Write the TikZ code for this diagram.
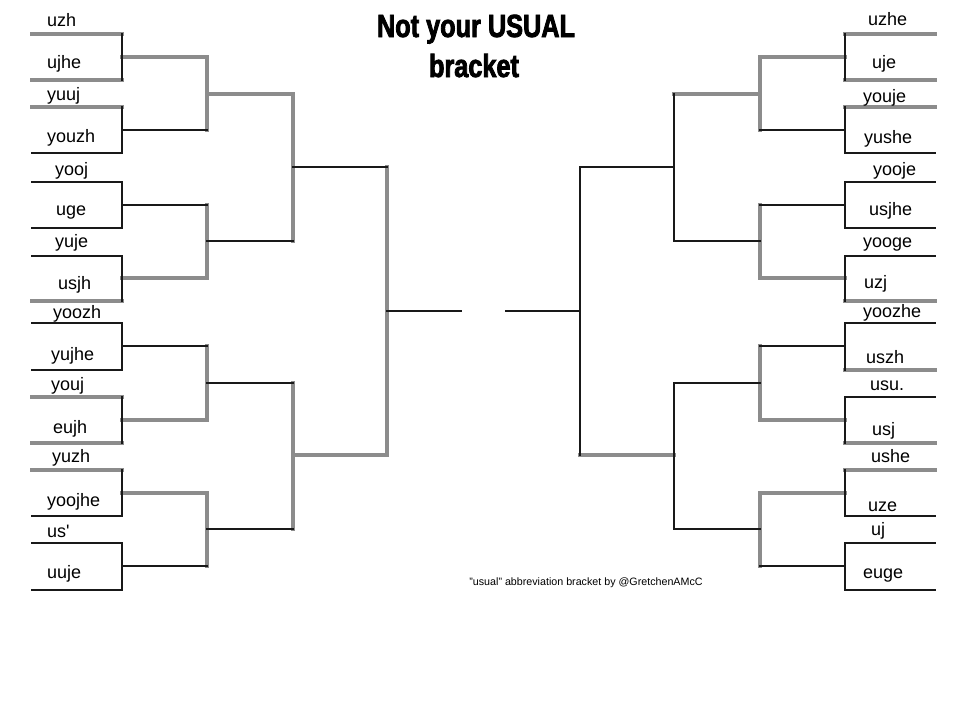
\documentclass[tikz,border=0pt]{standalone}
\usepackage{fontspec}
\setmainfont{Liberation Sans}
\newfontfamily\titlefont[FakeStretch=0.79,FakeBold=2.5]{Liberation Sans Bold}
\usepackage{tikz}

\begin{document}
\begin{tikzpicture}[x=1pt,y=-1pt,line cap=rect,
    lite/.style={draw=black!45, line width=3.6pt},
    dark/.style={draw=black!90, line width=2.8pt},
    lbl/.style={anchor=base west, inner sep=0pt, font=\fontsize{18}{20}\selectfont},
    ttl/.style={anchor=base, inner sep=0pt, font=\titlefont\fontsize{32}{34}\selectfont}]
  \useasboundingbox (0,0) rectangle (960,720);
  % left half
  \draw[lite] (32,34) -- (122,34) (32,80) -- (122,80) (32,107) -- (122,107) (32,301) -- (122,301)
              (32,397) -- (122,397) (32,443) -- (122,443) (32,470) -- (122,470);
  \draw[lite] (122,57) -- (207,57) (122,278) -- (207,278) (122,420) -- (207,420) (122,493) -- (207,493);
  \draw[lite] (207,57) -- (207,130) (207,205) -- (207,278) (207,346) -- (207,420) (207,493) -- (207,566);
  \draw[lite] (207,94) -- (293,94) (293,94) -- (293,241) (293,383) -- (293,529);
  \draw[lite] (293,455) -- (387,455) (387,167) -- (387,455);
  \draw[dark] (32,153) -- (122,153) (32,182) -- (122,182) (32,228) -- (122,228) (32,256) -- (122,256)
              (32,323) -- (122,323) (32,370) -- (122,370) (32,516) -- (122,516) (32,543) -- (122,543)
              (32,590) -- (122,590);
  \draw[dark] (122,34) -- (122,80) (122,107) -- (122,153) (122,182) -- (122,228) (122,256) -- (122,301)
              (122,323) -- (122,370) (122,397) -- (122,443) (122,470) -- (122,516) (122,543) -- (122,590);
  \draw[dark] (122,130) -- (207,130) (122,205) -- (207,205) (122,346) -- (207,346) (122,566) -- (207,566);
  \draw[dark] (207,241) -- (293,241) (207,383) -- (293,383) (207,529) -- (293,529);
  \draw[dark] (293,167) -- (387,167) (387,311) -- (461,311);
  % right half, mirrored
  \begin{scope}[xshift=967pt, xscale=-1]
    \draw[lite] (32,34) -- (122,34) (32,80) -- (122,80) (32,107) -- (122,107) (32,301) -- (122,301)
                (32,370) -- (122,370) (32,443) -- (122,443) (32,470) -- (122,470);
    \draw[lite] (122,57) -- (207,57) (122,278) -- (207,278) (122,420) -- (207,420) (122,493) -- (207,493);
    \draw[lite] (207,57) -- (207,130) (207,205) -- (207,278) (207,346) -- (207,420) (207,493) -- (207,566);
    \draw[lite] (207,94) -- (293,94) (293,455) -- (387,455);
    \draw[dark] (32,153) -- (122,153) (32,182) -- (122,182) (32,228) -- (122,228) (32,256) -- (122,256)
                (32,323) -- (122,323) (32,397) -- (122,397) (32,516) -- (122,516) (32,543) -- (122,543)
                (32,590) -- (122,590);
    \draw[dark] (122,34) -- (122,80) (122,107) -- (122,153) (122,182) -- (122,228) (122,256) -- (122,301)
                (122,323) -- (122,370) (122,397) -- (122,443) (122,470) -- (122,516) (122,543) -- (122,590);
    \draw[dark] (122,130) -- (207,130) (122,205) -- (207,205) (122,346) -- (207,346) (122,566) -- (207,566);
    \draw[dark] (207,241) -- (293,241) (207,383) -- (293,383) (207,529) -- (293,529);
    \draw[dark] (293,94) -- (293,241) (293,383) -- (293,529);
    \draw[dark] (293,167) -- (387,167) (387,167) -- (387,455) (387,311) -- (461,311);
  \end{scope}
  % names, left
  \node[lbl] (l1) at (47,27) {uzh};
  \node[lbl] (l2) at (47,68) {ujhe};
  \node[lbl] (l3) at (47,100) {yuuj};
  \node[lbl] (l4) at (47,142) {youzh};
  \node[lbl] (l5) at (55,175) {yooj};
  \node[lbl] (l6) at (56,215) {uge};
  \node[lbl] (l7) at (55,247) {yuje};
  \node[lbl] (l8) at (58,289) {usjh};
  \node[lbl] (l9) at (53,318) {yoozh};
  \node[lbl] (l10) at (51,360) {yujhe};
  \node[lbl] (l11) at (51,390) {youj};
  \node[lbl] (l12) at (53,433) {eujh};
  \node[lbl] (l13) at (52,462) {yuzh};
  \node[lbl] (l14) at (47,506) {yoojhe};
  \node[lbl] (l15) at (47,537) {us\textquotesingle};
  \node[lbl] (l16) at (47,578) {uuje};
  % names, right
  \node[lbl] (r1) at (868,25) {uzhe};
  \node[lbl] (r2) at (872,68) {uje};
  \node[lbl] (r3) at (863,102) {youje};
  \node[lbl] (r4) at (864,143) {yushe};
  \node[lbl] (r5) at (873,175) {yooje};
  \node[lbl] (r6) at (869,215) {usjhe};
  \node[lbl] (r7) at (863,247) {yooge};
  \node[lbl] (r8) at (864,288) {uzj};
  \node[lbl] (r9) at (863,317) {yoozhe};
  \node[lbl] (r10) at (866,363) {uszh};
  \node[lbl] (r11) at (870,390) {usu.};
  \node[lbl] (r12) at (872,435) {usj};
  \node[lbl] (r13) at (871,462) {ushe};
  \node[lbl] (r14) at (868,511) {uze};
  \node[lbl] (r15) at (871,535) {uj};
  \node[lbl] (r16) at (863,578) {euge};
  % title and credit
  \node[ttl] (title1) at (476,37) {Not your USUAL};
  \node[ttl] (title2) at (474,77) {bracket};
  \node[anchor=base, inner sep=0pt, font=\fontsize{10.7}{12}\selectfont] (credit) at (586,585)
    {"usual" abbreviation bracket by @GretchenAMcC};
\end{tikzpicture}
\end{document}
